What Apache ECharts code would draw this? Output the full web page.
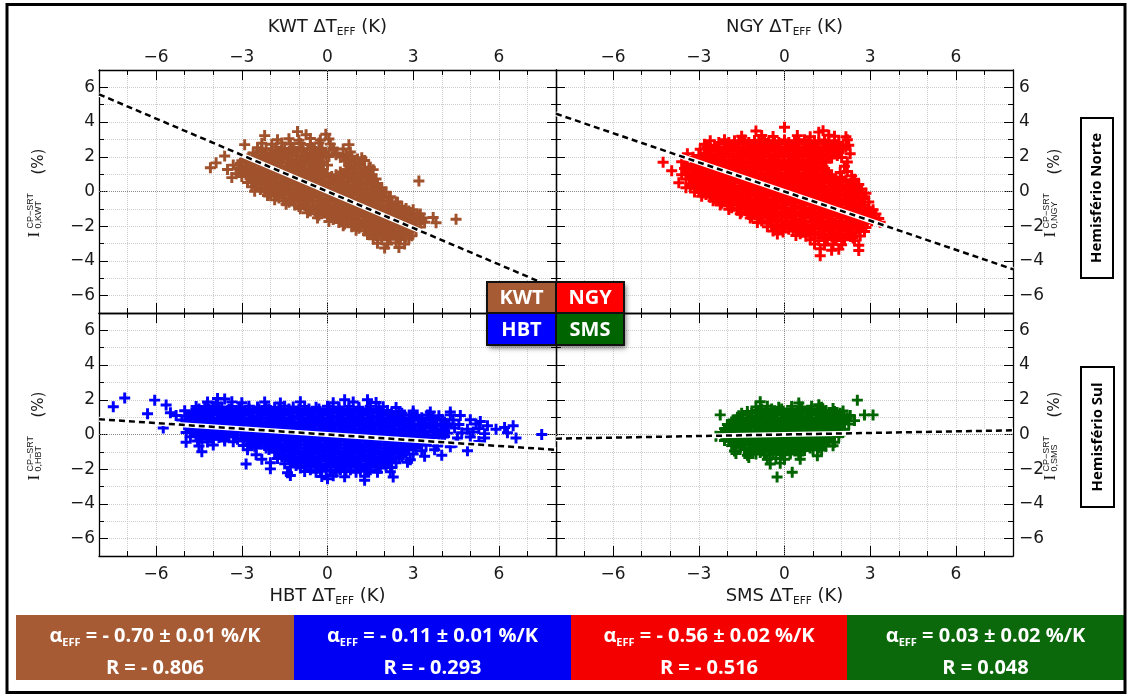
<!DOCTYPE html>
<html><head><meta charset="utf-8">
<script src="https://cdn.jsdelivr.net/npm/echarts@6/dist/echarts.min.js"></script>
<style>html,body{margin:0;padding:0;background:#fff}#c{width:1129px;height:695px}</style>
</head><body><div id="c"></div>
<script>
// ---------------- DATA ----------------
const panelNames = ['KWT', 'NGY', 'HBT', 'SMS'];
const panelColors = ['#A0522D', '#FF0000', '#0000FF', '#006400'];
const slopes = [-0.70, -0.56, -0.11, 0.03];          // alpha_EFF (%/K), regression through origin
const xRange = [-8, 8];
const yRange = [-7, 7];
const xTickLabels = [-6, -3, 0, 3, 6];
const yTickLabels = [-6, -4, -2, 0, 2, 4, 6];
const hemispheres = ['Hemisfério Norte', 'Hemisfério Sul'];
const boxStations = ['KWT', 'HBT', 'NGY', 'SMS'];
const boxColors = ['#A65B35', '#0000F5', '#F50000', '#0B680B'];
const alphaText = ['- 0.70 ± 0.01', '- 0.11 ± 0.01', '- 0.56 ± 0.02', '0.03 ± 0.02'];
const rText = ['- 0.806', '- 0.293', '- 0.516', '0.048'];

const kwtPoints = [
[-1.05,3.45],
[-2.2,3.22],[-0.75,3.27],[-0.06,3.3],
[-1.75,2.98],[-1.35,3.04],[-1.0,2.95],[-0.6,3.05],[-0.25,2.97],[0.05,3.02],
[-2.9,2.7],[-2.3,2.78],[-1.95,2.72],[-1.6,2.8],[-1.3,2.74],[-0.95,2.77],[-0.6,2.71],[-0.3,2.79],[0.1,2.73],[0.75,2.7],
[-2.45,2.52],[-2.15,2.46],[-1.8,2.55],[-1.5,2.48],[-1.2,2.53],[-0.85,2.47],[-0.55,2.54],[-0.2,2.49],[0.2,2.51],[0.55,2.45],
[-2.6,2.22],[-2.3,2.28],[-2.0,2.2],[-1.7,2.27],[-1.35,2.23],[-1.05,2.29],[-0.75,2.21],[-0.45,2.26],[-0.1,2.24],[0.3,2.2],[0.8,2.28],
[-3.6,2.04],[-2.75,1.98],[-2.45,2.03],[-2.15,1.97],[-1.85,2.02],[-1.55,1.96],[-1.25,2.04],[-0.9,1.99],[-0.6,2.03],[-0.3,1.97],[0.05,2.01],[0.45,1.98],[0.85,2.03],[1.2,1.95],
[-3.9,1.65],[-3.0,1.77],[-2.65,1.72],[-2.35,1.78],[-2.0,1.73],[-1.7,1.76],[-1.4,1.71],[-1.1,1.78],[-0.8,1.74],[-0.45,1.77],[-0.15,1.72],[0.6,1.76],[0.95,1.71],[1.3,1.78],
[-4.1,1.37],[-3.3,1.52],[-2.85,1.47],[-2.55,1.53],[-2.2,1.48],[-1.9,1.52],[-1.6,1.46],[-1.25,1.54],[-0.95,1.49],[-0.65,1.53],[-0.3,1.47],[0.0,1.52],[0.75,1.48],[1.1,1.53],[1.5,1.4],
[-3.5,1.27],[-3.05,1.22],[-2.7,1.28],[-2.4,1.23],[-2.1,1.27],[-1.8,1.21],[-1.45,1.26],[-1.15,1.23],[-0.8,1.28],[-0.5,1.22],[-0.2,1.27],[0.65,1.24],[0.95,1.28],[1.3,1.21],[1.6,1.26],
[-3.2,1.02],[-2.85,0.97],[-2.55,1.03],[-2.25,0.98],[-1.95,1.02],[-1.6,0.96],[-1.3,1.01],[-1.0,0.97],[-0.7,1.03],[-0.4,0.98],[-0.05,1.02],[0.3,0.96],[0.55,1.03],[0.9,0.98],[1.2,1.02],[1.55,0.97],
[-3.35,0.8],[-2.7,0.74],[-2.4,0.78],[-2.1,0.72],[-1.8,0.77],[-1.5,0.73],[-1.15,0.78],[-0.85,0.72],[-0.55,0.76],[-0.25,0.74],[0.1,0.78],[0.4,0.72],[0.75,0.77],[1.05,0.73],[1.4,0.78],[1.7,0.72],
[-2.8,0.52],[-2.5,0.47],[-2.2,0.53],[-1.9,0.48],[-1.6,0.52],[-1.3,0.46],[-1.0,0.51],[-0.7,0.48],[-0.4,0.53],[-0.1,0.47],[0.25,0.52],[0.55,0.48],[0.9,0.53],[1.2,0.47],[1.5,0.52],[1.75,0.46],[3.2,0.6],
[-2.65,0.27],[-2.35,0.22],[-2.05,0.28],[-1.75,0.23],[-1.45,0.27],[-1.1,0.21],[-0.8,0.26],[-0.5,0.23],[-0.2,0.28],[0.1,0.22],[0.4,0.27],[0.7,0.23],[1.0,0.28],[1.35,0.22],[1.65,0.26],[1.9,0.21],
[-2.55,0.02],[-2.2,-0.03],[-1.9,0.03],[-1.6,-0.02],[-1.25,0.02],[-0.95,-0.04],[-0.65,0.01],[-0.35,-0.02],[0.0,0.03],[0.3,-0.03],[0.6,0.02],[0.9,-0.02],[1.2,0.03],[1.5,-0.03],[1.8,0.01],[2.05,-0.04],
[-2.1,-0.23],[-1.8,-0.28],[-1.5,-0.22],[-1.15,-0.27],[-0.85,-0.23],[-0.55,-0.28],[-0.2,-0.22],[0.1,-0.26],[0.45,-0.23],[0.75,-0.28],[1.05,-0.22],[1.35,-0.27],[1.65,-0.23],[1.95,-0.28],[2.2,-0.3],
[-1.85,-0.48],[-1.55,-0.53],[-1.25,-0.47],[-0.95,-0.52],[-0.65,-0.48],[-0.35,-0.53],[-0.05,-0.47],[0.3,-0.52],[0.6,-0.48],[0.9,-0.53],[1.2,-0.47],[1.5,-0.52],[1.8,-0.48],[2.1,-0.53],[2.4,-0.6],
[-1.45,-0.73],[-1.15,-0.78],[-0.8,-0.72],[-0.5,-0.77],[-0.2,-0.73],[0.1,-0.78],[0.4,-0.72],[0.7,-0.77],[1.0,-0.73],[1.35,-0.78],[1.65,-0.72],[1.95,-0.77],[2.25,-0.73],[2.6,-0.85],
[-0.95,-1.0],[-0.65,-1.04],[-0.35,-0.97],[-0.05,-1.03],[0.25,-0.98],[0.55,-1.02],[0.9,-0.97],[1.2,-1.03],[1.5,-0.98],[1.8,-1.02],[2.1,-0.97],[2.4,-1.03],[2.75,-0.98],[3.0,-1.05],
[-0.7,-1.22],[-0.4,-1.28],[-0.1,-1.23],[0.2,-1.27],[0.5,-1.22],[0.8,-1.28],[1.1,-1.23],[1.45,-1.27],[1.75,-1.22],[2.05,-1.28],[2.35,-1.23],[2.65,-1.27],[2.95,-1.22],[3.25,-1.3],
[-0.35,-1.52],[0.0,-1.47],[0.3,-1.53],[0.6,-1.48],[0.95,-1.52],[1.25,-1.46],[1.55,-1.53],[1.85,-1.48],[2.15,-1.52],[2.45,-1.47],[2.75,-1.53],[3.05,-1.48],[3.35,-1.52],[3.7,-1.5],
[0.05,-1.73],[0.4,-1.78],[0.7,-1.72],[1.0,-1.77],[1.3,-1.73],[1.6,-1.78],[1.9,-1.72],[2.2,-1.77],[2.5,-1.73],[2.8,-1.78],[3.1,-1.72],[3.4,-1.77],[3.8,-1.8],
[0.55,-1.98],[0.85,-2.03],[1.15,-1.97],[1.45,-2.02],[1.75,-1.98],[2.05,-2.03],[2.35,-1.97],[2.65,-2.02],[2.95,-1.98],[3.25,-2.05],
[1.0,-2.23],[1.3,-2.28],[1.6,-2.22],[1.9,-2.27],[2.2,-2.23],[2.5,-2.28],[2.8,-2.22],[3.1,-2.27],
[1.4,-2.48],[1.7,-2.53],[2.0,-2.47],[2.3,-2.52],[2.6,-2.48],[2.95,-2.55],
[1.6,-2.73],[1.9,-2.78],[2.2,-2.72],[2.55,-2.77],[2.85,-2.7],
[1.75,-2.98],[2.1,-3.03],[2.4,-2.97],[2.7,-3.02],
[2.0,-3.25],[2.5,-3.22],
[4.5,-1.6]
];
const kwtCore = [
[-2.3,2.38],[-1.95,2.38],[-1.6,2.38],[-1.25,2.38],[-0.9,2.38],[-0.55,2.38],[-0.2,2.38],[0.2,2.38],
[-2.5,2.12],[-2.15,2.12],[-1.8,2.12],[-1.45,2.12],[-1.1,2.12],[-0.75,2.12],[-0.4,2.12],[-0.05,2.12],[0.3,2.12],[0.65,2.12],
[-2.8,1.87],[-2.45,1.87],[-2.1,1.87],[-1.75,1.87],[-1.4,1.87],[-1.05,1.87],[-0.7,1.87],[-0.35,1.87],[0.7,1.87],[1.05,1.87],
[-3.05,1.62],[-2.7,1.62],[-2.35,1.62],[-2.0,1.62],[-1.65,1.62],[-1.3,1.62],[-0.95,1.62],[-0.6,1.62],[-0.25,1.62],[0.8,1.62],[1.15,1.62],
[-3.1,1.37],[-2.75,1.37],[-2.4,1.37],[-2.05,1.37],[-1.7,1.37],[-1.35,1.37],[-1.0,1.37],[-0.65,1.37],[-0.3,1.37],[0.8,1.37],[1.15,1.37],[1.45,1.37],
[-2.95,1.12],[-2.6,1.12],[-2.25,1.12],[-1.9,1.12],[-1.55,1.12],[-1.2,1.12],[-0.85,1.12],[-0.5,1.12],[-0.15,1.12],[0.45,1.12],[0.8,1.12],[1.1,1.12],[1.4,1.12],
[-3.0,0.87],[-2.65,0.87],[-2.3,0.87],[-1.95,0.87],[-1.6,0.87],[-1.25,0.87],[-0.9,0.87],[-0.55,0.87],[-0.2,0.87],[0.15,0.87],[0.5,0.87],[0.85,0.87],[1.2,0.87],[1.5,0.87],
[-2.6,0.62],[-2.25,0.62],[-1.9,0.62],[-1.55,0.62],[-1.2,0.62],[-0.85,0.62],[-0.5,0.62],[-0.15,0.62],[0.2,0.62],[0.55,0.62],[0.9,0.62],[1.25,0.62],[1.6,0.62],
[-2.5,0.37],[-2.15,0.37],[-1.8,0.37],[-1.45,0.37],[-1.1,0.37],[-0.75,0.37],[-0.4,0.37],[-0.05,0.37],[0.3,0.37],[0.65,0.37],[1.0,0.37],[1.35,0.37],[1.7,0.37],
[-2.35,0.12],[-2.0,0.12],[-1.65,0.12],[-1.3,0.12],[-0.95,0.12],[-0.6,0.12],[-0.25,0.12],[0.1,0.12],[0.45,0.12],[0.8,0.12],[1.15,0.12],[1.5,0.12],[1.85,0.12],
[-2.0,-0.12],[-1.65,-0.12],[-1.3,-0.12],[-0.95,-0.12],[-0.6,-0.12],[-0.25,-0.12],[0.1,-0.12],[0.45,-0.12],[0.8,-0.12],[1.15,-0.12],[1.5,-0.12],[1.85,-0.12],
[-1.7,-0.37],[-1.35,-0.37],[-1.0,-0.37],[-0.65,-0.37],[-0.3,-0.37],[0.05,-0.37],[0.4,-0.37],[0.75,-0.37],[1.1,-0.37],[1.45,-0.37],[1.8,-0.37],[2.15,-0.37],
[-1.35,-0.62],[-1.0,-0.62],[-0.65,-0.62],[-0.3,-0.62],[0.05,-0.62],[0.4,-0.62],[0.75,-0.62],[1.1,-0.62],[1.45,-0.62],[1.8,-0.62],[2.15,-0.62],[2.45,-0.62],
[-1.0,-0.87],[-0.65,-0.87],[-0.3,-0.87],[0.05,-0.87],[0.4,-0.87],[0.75,-0.87],[1.1,-0.87],[1.45,-0.87],[1.8,-0.87],[2.15,-0.87],[2.5,-0.87],
[-0.6,-1.12],[-0.25,-1.12],[0.1,-1.12],[0.45,-1.12],[0.8,-1.12],[1.15,-1.12],[1.5,-1.12],[1.85,-1.12],[2.2,-1.12],[2.55,-1.12],[2.85,-1.12],
[-0.3,-1.37],[0.05,-1.37],[0.4,-1.37],[0.75,-1.37],[1.1,-1.37],[1.45,-1.37],[1.8,-1.37],[2.15,-1.37],[2.5,-1.37],[2.85,-1.37],[3.15,-1.37],
[0.2,-1.62],[0.55,-1.62],[0.9,-1.62],[1.25,-1.62],[1.6,-1.62],[1.95,-1.62],[2.3,-1.62],[2.65,-1.62],[3.0,-1.62],[3.3,-1.62],
[0.6,-1.87],[0.95,-1.87],[1.3,-1.87],[1.65,-1.87],[2.0,-1.87],[2.35,-1.87],[2.7,-1.87],[3.05,-1.87],
[1.1,-2.12],[1.45,-2.12],[1.8,-2.12],[2.15,-2.12],[2.5,-2.12],[2.85,-2.12],
[1.5,-2.37],[1.85,-2.37],[2.2,-2.37],[2.55,-2.37],[2.85,-2.37],
[1.75,-2.62],[2.1,-2.62],[2.45,-2.62],[2.75,-2.62]
];

const ngyPoints = [
[0.0,3.7],
[-1.0,3.48],[1.2,3.42],[1.35,3.5],
[-1.5,3.18],[-0.8,3.23],[-0.4,3.17],[0.45,3.22],[0.9,3.16],[1.55,3.24],[1.75,3.18],[2.15,3.15],
[-2.6,2.93],[-2.1,2.98],[-1.75,2.92],[-1.4,2.97],[-1.05,2.94],[-0.7,2.99],[-0.35,2.92],[0.0,2.97],[0.35,2.93],[0.7,2.98],[1.05,2.92],[1.4,2.97],[1.75,2.93],[2.2,2.98],
[-2.8,2.72],[-2.45,2.67],[-2.1,2.73],[-1.8,2.68],[-1.45,2.72],[-1.15,2.66],[-0.8,2.71],[-0.5,2.68],[-0.15,2.73],[0.2,2.67],[0.5,2.72],[0.85,2.68],[1.2,2.73],[1.55,2.67],[1.9,2.71],[2.25,2.66],
[-2.95,2.43],[-2.6,2.48],[-2.3,2.42],[-1.95,2.47],[-1.65,2.43],[-1.3,2.48],[-1.0,2.42],[-0.65,2.47],[-0.3,2.43],[0.05,2.48],[0.35,2.42],[0.7,2.47],[1.0,2.43],[1.35,2.48],[1.7,2.42],[2.05,2.46],
[-3.4,2.17],[-2.8,2.22],[-2.45,2.18],[-2.15,2.23],[-1.8,2.17],[-1.5,2.22],[-1.15,2.18],[-0.85,2.23],[-0.5,2.17],[-0.2,2.22],[0.15,2.18],[0.5,2.23],[0.85,2.17],[1.15,2.22],[1.5,2.18],[1.85,2.23],[2.3,2.17],
[-3.2,1.97],[-2.9,1.92],[-2.6,1.98],[-2.3,1.93],[-1.95,1.97],[-1.65,1.92],[-1.35,1.98],[-1.0,1.93],[-0.7,1.97],[-0.35,1.92],[0.0,1.98],[0.3,1.93],[0.65,1.97],[1.0,1.92],[1.3,1.98],[1.65,1.93],[2.0,1.96],
[-4.25,1.69],[-3.6,1.72],[-3.05,1.67],[-2.75,1.73],[-2.45,1.68],[-2.1,1.72],[-1.8,1.67],[-1.5,1.73],[-1.15,1.68],[-0.85,1.72],[-0.5,1.67],[-0.2,1.73],[0.15,1.68],[0.5,1.72],[0.8,1.67],[1.15,1.73],[1.45,1.68],[2.2,1.7],
[-3.4,1.47],[-3.1,1.42],[-2.8,1.48],[-2.5,1.43],[-2.2,1.47],[-1.9,1.42],[-1.6,1.48],[-1.3,1.43],[-0.95,1.47],[-0.65,1.42],[-0.3,1.48],[0.05,1.43],[0.35,1.47],[0.7,1.42],[1.0,1.48],[1.35,1.43],[2.1,1.45],
[-3.95,1.2],[-3.25,1.22],[-2.95,1.17],[-2.65,1.23],[-2.35,1.18],[-2.05,1.22],[-1.7,1.17],[-1.4,1.23],[-1.1,1.18],[-0.8,1.22],[-0.45,1.17],[-0.15,1.23],[0.2,1.18],[0.5,1.22],[0.85,1.17],[1.15,1.23],[1.45,1.18],[1.95,1.1],[2.2,1.15],
[-3.6,0.97],[-3.2,0.92],[-2.85,0.98],[-2.55,0.93],[-2.2,0.97],[-1.9,0.92],[-1.6,0.98],[-1.25,0.93],[-0.95,0.97],[-0.6,0.92],[-0.3,0.98],[0.05,0.93],[0.35,0.97],[0.7,0.92],[1.0,0.98],[1.3,0.93],[1.65,0.97],[2.35,0.9],
[-3.45,0.72],[-3.1,0.67],[-2.75,0.73],[-2.45,0.68],[-2.15,0.72],[-1.8,0.67],[-1.5,0.73],[-1.2,0.68],[-0.85,0.72],[-0.55,0.67],[-0.2,0.73],[0.1,0.68],[0.45,0.72],[0.8,0.67],[1.1,0.73],[1.4,0.68],[1.8,0.72],[2.15,0.66],[2.45,0.7],
[-3.7,0.5],[-3.3,0.43],[-3.0,0.48],[-2.7,0.42],[-2.35,0.47],[-2.05,0.43],[-1.75,0.48],[-1.4,0.42],[-1.1,0.47],[-0.75,0.43],[-0.45,0.48],[-0.1,0.42],[0.25,0.47],[0.55,0.43],[0.9,0.48],[1.2,0.42],[1.55,0.47],[1.9,0.43],[2.3,0.46],[2.6,0.4],
[-3.45,0.22],[-3.1,0.17],[-2.8,0.23],[-2.5,0.18],[-2.2,0.22],[-1.85,0.17],[-1.55,0.23],[-1.25,0.18],[-0.9,0.22],[-0.6,0.17],[-0.25,0.23],[0.1,0.18],[0.4,0.22],[0.75,0.17],[1.05,0.23],[1.35,0.18],[1.7,0.22],[2.0,0.17],[2.4,0.21],[2.7,0.15],
[-3.15,-0.03],[-2.85,-0.08],[-2.55,-0.02],[-2.25,-0.07],[-1.95,-0.03],[-1.6,-0.08],[-1.3,-0.02],[-1.0,-0.07],[-0.65,-0.03],[-0.35,-0.08],[0.0,-0.02],[0.3,-0.07],[0.65,-0.03],[0.95,-0.08],[1.25,-0.02],[1.6,-0.07],[1.9,-0.03],[2.2,-0.08],[2.55,-0.02],[2.85,-0.1],
[-2.9,-0.28],[-2.6,-0.33],[-2.3,-0.27],[-2.0,-0.32],[-1.7,-0.28],[-1.35,-0.33],[-1.05,-0.27],[-0.75,-0.32],[-0.4,-0.28],[-0.1,-0.33],[0.2,-0.27],[0.55,-0.32],[0.85,-0.28],[1.15,-0.33],[1.5,-0.27],[1.8,-0.32],[2.1,-0.28],[2.45,-0.33],[2.8,-0.3],
[-2.5,-0.53],[-2.2,-0.58],[-1.9,-0.52],[-1.6,-0.57],[-1.25,-0.53],[-0.95,-0.58],[-0.6,-0.52],[-0.3,-0.57],[0.05,-0.53],[0.35,-0.58],[0.7,-0.52],[1.0,-0.57],[1.3,-0.53],[1.65,-0.58],[1.95,-0.52],[2.3,-0.57],[2.6,-0.53],[2.95,-0.6],
[-2.25,-0.78],[-1.95,-0.83],[-1.65,-0.77],[-1.35,-0.82],[-1.05,-0.78],[-0.7,-0.83],[-0.4,-0.77],[-0.1,-0.82],[0.25,-0.78],[0.55,-0.83],[0.9,-0.77],[1.2,-0.82],[1.5,-0.78],[1.85,-0.83],[2.15,-0.77],[2.45,-0.82],[2.8,-0.78],
[-1.95,-1.03],[-1.65,-1.08],[-1.35,-1.02],[-1.0,-1.07],[-0.7,-1.03],[-0.4,-1.08],[-0.05,-1.02],[0.25,-1.07],[0.55,-1.03],[0.9,-1.08],[1.2,-1.02],[1.55,-1.07],[1.85,-1.03],[2.2,-1.08],[2.5,-1.02],[2.8,-1.07],[3.1,-1.05],
[-1.55,-1.28],[-1.25,-1.33],[-0.9,-1.27],[-0.6,-1.32],[-0.3,-1.28],[0.05,-1.33],[0.35,-1.27],[0.7,-1.32],[1.0,-1.28],[1.3,-1.33],[1.65,-1.27],[1.95,-1.32],[2.3,-1.28],[2.6,-1.33],[2.9,-1.27],[3.2,-1.3],
[-1.2,-1.53],[-0.9,-1.58],[-0.55,-1.52],[-0.25,-1.57],[0.1,-1.53],[0.4,-1.58],[0.7,-1.52],[1.05,-1.57],[1.35,-1.53],[1.65,-1.58],[2.0,-1.52],[2.3,-1.57],[2.65,-1.53],[2.95,-1.58],[3.3,-1.55],
[-0.95,-1.78],[-0.6,-1.83],[-0.3,-1.77],[0.05,-1.82],[0.35,-1.78],[0.65,-1.83],[1.0,-1.77],[1.3,-1.82],[1.6,-1.78],[1.95,-1.83],[2.25,-1.77],[2.55,-1.82],[2.9,-1.78],[3.35,-1.77],
[-0.6,-2.03],[-0.3,-2.08],[0.0,-2.02],[0.35,-2.07],[0.65,-2.03],[0.95,-2.08],[1.3,-2.02],[1.6,-2.07],[1.9,-2.03],[2.2,-2.08],[2.55,-2.02],[2.85,-2.07],
[-0.4,-2.28],[-0.05,-2.33],[0.3,-2.27],[0.6,-2.32],[0.9,-2.28],[1.25,-2.33],[1.55,-2.27],[1.85,-2.32],[2.2,-2.28],[2.5,-2.33],[2.8,-2.3],
[-0.25,-2.45],[0.4,-2.53],[0.75,-2.58],[1.05,-2.52],[1.35,-2.57],[1.7,-2.53],[2.0,-2.58],[2.3,-2.52],[2.65,-2.57],
[0.9,-2.78],[1.2,-2.83],[1.5,-2.77],[1.8,-2.82],[2.1,-2.78],[2.45,-2.83],
[1.05,-3.03],[1.4,-3.08],[1.7,-3.02],[2.0,-3.07],[2.6,-3.1],
[1.25,-3.3],[1.65,-3.38],[1.9,-3.32],[2.6,-3.4],
[1.25,-3.7]
];
const ngyCore = [
[-2.3,2.82],[-1.95,2.82],[-1.6,2.82],[-1.25,2.82],[-0.9,2.82],[-0.55,2.82],[-0.2,2.82],[0.15,2.82],[0.5,2.82],[0.85,2.82],[1.2,2.82],[1.55,2.82],[1.9,2.82],
[-2.7,2.57],[-2.35,2.57],[-2.0,2.57],[-1.65,2.57],[-1.3,2.57],[-0.95,2.57],[-0.6,2.57],[-0.25,2.57],[0.1,2.57],[0.45,2.57],[0.8,2.57],[1.15,2.57],[1.5,2.57],[1.85,2.57],[2.15,2.57],
[-2.65,2.32],[-2.3,2.32],[-1.95,2.32],[-1.6,2.32],[-1.25,2.32],[-0.9,2.32],[-0.55,2.32],[-0.2,2.32],[0.15,2.32],[0.5,2.32],[0.85,2.32],[1.2,2.32],[1.55,2.32],[1.9,2.32],
[-3.0,2.07],[-2.65,2.07],[-2.3,2.07],[-1.95,2.07],[-1.6,2.07],[-1.25,2.07],[-0.9,2.07],[-0.55,2.07],[-0.2,2.07],[0.15,2.07],[0.5,2.07],[0.85,2.07],[1.2,2.07],[1.55,2.07],[1.85,2.07],
[-3.2,1.82],[-2.85,1.82],[-2.5,1.82],[-2.15,1.82],[-1.8,1.82],[-1.45,1.82],[-1.1,1.82],[-0.75,1.82],[-0.4,1.82],[-0.05,1.82],[0.3,1.82],[0.65,1.82],[1.0,1.82],[1.35,1.82],
[-3.25,1.57],[-2.9,1.57],[-2.55,1.57],[-2.2,1.57],[-1.85,1.57],[-1.5,1.57],[-1.15,1.57],[-0.8,1.57],[-0.45,1.57],[-0.1,1.57],[0.25,1.57],[0.6,1.57],[0.95,1.57],[1.3,1.57],
[-3.5,1.32],[-3.1,1.32],[-2.75,1.32],[-2.4,1.32],[-2.05,1.32],[-1.7,1.32],[-1.35,1.32],[-1.0,1.32],[-0.65,1.32],[-0.3,1.32],[0.05,1.32],[0.4,1.32],[0.75,1.32],[1.1,1.32],[1.4,1.32],
[-3.4,1.07],[-3.05,1.07],[-2.7,1.07],[-2.35,1.07],[-2.0,1.07],[-1.65,1.07],[-1.3,1.07],[-0.95,1.07],[-0.6,1.07],[-0.25,1.07],[0.1,1.07],[0.45,1.07],[0.8,1.07],[1.15,1.07],[1.5,1.07],
[-3.3,0.82],[-2.95,0.82],[-2.6,0.82],[-2.25,0.82],[-1.9,0.82],[-1.55,0.82],[-1.2,0.82],[-0.85,0.82],[-0.5,0.82],[-0.15,0.82],[0.2,0.82],[0.55,0.82],[0.9,0.82],[1.25,0.82],[1.6,0.82],[2.0,0.82],
[-3.2,0.57],[-2.85,0.57],[-2.5,0.57],[-2.15,0.57],[-1.8,0.57],[-1.45,0.57],[-1.1,0.57],[-0.75,0.57],[-0.4,0.57],[-0.05,0.57],[0.3,0.57],[0.65,0.57],[1.0,0.57],[1.35,0.57],[1.7,0.57],[2.05,0.57],[2.4,0.57],
[-3.3,0.32],[-2.95,0.32],[-2.6,0.32],[-2.25,0.32],[-1.9,0.32],[-1.55,0.32],[-1.2,0.32],[-0.85,0.32],[-0.5,0.32],[-0.15,0.32],[0.2,0.32],[0.55,0.32],[0.9,0.32],[1.25,0.32],[1.6,0.32],[1.95,0.32],[2.3,0.32],[2.55,0.32],
[-3.0,0.07],[-2.65,0.07],[-2.3,0.07],[-1.95,0.07],[-1.6,0.07],[-1.25,0.07],[-0.9,0.07],[-0.55,0.07],[-0.2,0.07],[0.15,0.07],[0.5,0.07],[0.85,0.07],[1.2,0.07],[1.55,0.07],[1.9,0.07],[2.25,0.07],[2.6,0.07],
[-2.75,-0.18],[-2.4,-0.18],[-2.05,-0.18],[-1.7,-0.18],[-1.35,-0.18],[-1.0,-0.18],[-0.65,-0.18],[-0.3,-0.18],[0.05,-0.18],[0.4,-0.18],[0.75,-0.18],[1.1,-0.18],[1.45,-0.18],[1.8,-0.18],[2.15,-0.18],[2.5,-0.18],
[-2.45,-0.43],[-2.1,-0.43],[-1.75,-0.43],[-1.4,-0.43],[-1.05,-0.43],[-0.7,-0.43],[-0.35,-0.43],[0.0,-0.43],[0.35,-0.43],[0.7,-0.43],[1.05,-0.43],[1.4,-0.43],[1.75,-0.43],[2.1,-0.43],[2.45,-0.43],[2.75,-0.43],
[-2.2,-0.68],[-1.85,-0.68],[-1.5,-0.68],[-1.15,-0.68],[-0.8,-0.68],[-0.45,-0.68],[-0.1,-0.68],[0.25,-0.68],[0.6,-0.68],[0.95,-0.68],[1.3,-0.68],[1.65,-0.68],[2.0,-0.68],[2.35,-0.68],[2.65,-0.68],
[-1.85,-0.93],[-1.5,-0.93],[-1.15,-0.93],[-0.8,-0.93],[-0.45,-0.93],[-0.1,-0.93],[0.25,-0.93],[0.6,-0.93],[0.95,-0.93],[1.3,-0.93],[1.65,-0.93],[2.0,-0.93],[2.35,-0.93],[2.65,-0.93],[2.95,-0.93],
[-1.5,-1.18],[-1.15,-1.18],[-0.8,-1.18],[-0.45,-1.18],[-0.1,-1.18],[0.25,-1.18],[0.6,-1.18],[0.95,-1.18],[1.3,-1.18],[1.65,-1.18],[2.0,-1.18],[2.35,-1.18],[2.7,-1.18],[3.0,-1.18],
[-1.15,-1.43],[-0.8,-1.43],[-0.45,-1.43],[-0.1,-1.43],[0.25,-1.43],[0.6,-1.43],[0.95,-1.43],[1.3,-1.43],[1.65,-1.43],[2.0,-1.43],[2.35,-1.43],[2.7,-1.43],[3.05,-1.43],
[-0.8,-1.68],[-0.45,-1.68],[-0.1,-1.68],[0.25,-1.68],[0.6,-1.68],[0.95,-1.68],[1.3,-1.68],[1.65,-1.68],[2.0,-1.68],[2.35,-1.68],[2.7,-1.68],[3.05,-1.68],
[-0.45,-1.93],[-0.1,-1.93],[0.25,-1.93],[0.6,-1.93],[0.95,-1.93],[1.3,-1.93],[1.65,-1.93],[2.0,-1.93],[2.35,-1.93],[2.7,-1.93],
[-0.2,-2.18],[0.15,-2.18],[0.5,-2.18],[0.85,-2.18],[1.2,-2.18],[1.55,-2.18],[1.9,-2.18],[2.25,-2.18],[2.6,-2.18],
[0.55,-2.43],[0.9,-2.43],[1.25,-2.43],[1.6,-2.43],[1.95,-2.43],[2.3,-2.43],
[1.05,-2.68],[1.4,-2.68],[1.75,-2.68],[2.1,-2.68],[2.4,-2.68]
];

const hbtPoints = [
[-7.1,2.1],[-3.85,2.07],[-3.6,2.05],[0.6,2.0],[1.4,2.0],
[-6.05,1.98],[-4.2,1.87],[-3.9,1.82],[-3.35,1.88],[-3.0,1.83],[-2.2,1.87],[-1.65,1.82],[-0.95,1.88],[0.2,1.83],[0.9,1.87],[1.7,1.84],
[-7.5,1.6],[-5.65,1.7],[-4.6,1.62],[-4.3,1.57],[-4.0,1.63],[-3.7,1.58],[-3.35,1.62],[-3.05,1.57],[-2.75,1.63],[-2.45,1.58],[-2.15,1.62],[-1.85,1.57],[-1.5,1.63],[-1.2,1.58],[-0.8,1.62],[-0.4,1.57],[0.0,1.63],[0.4,1.58],[0.75,1.62],[1.1,1.57],[1.5,1.63],[1.95,1.6],[2.4,1.55],
[-5.5,1.25],[-5.0,1.37],[-4.7,1.32],[-4.4,1.38],[-4.1,1.33],[-3.8,1.37],[-3.5,1.32],[-3.2,1.38],[-2.9,1.33],[-2.6,1.37],[-2.3,1.32],[-2.0,1.38],[-1.7,1.33],[-1.35,1.37],[-1.05,1.32],[-0.7,1.38],[-0.35,1.33],[0.0,1.37],[0.35,1.32],[0.7,1.38],[1.05,1.33],[1.4,1.37],[1.75,1.32],[2.1,1.38],[2.5,1.33],[3.0,1.36],[3.6,1.3],[4.3,1.3],
[-6.3,1.2],[-5.3,1.1],[-4.95,1.07],[-4.6,1.12],[-4.3,1.08],[-4.0,1.13],[-3.65,1.07],[-3.35,1.12],[-3.05,1.08],[-2.75,1.13],[-2.45,1.07],[-2.15,1.12],[-1.85,1.08],[-1.5,1.13],[-1.2,1.07],[-0.85,1.12],[-0.5,1.08],[-0.15,1.13],[0.2,1.07],[0.55,1.12],[0.9,1.08],[1.25,1.13],[1.6,1.07],[1.95,1.12],[2.3,1.08],[2.7,1.13],[3.1,1.07],[3.5,1.12],[3.9,1.08],[4.3,1.13],[4.65,1.1],
[-5.1,0.83],[-4.8,0.88],[-4.5,0.82],[-4.15,0.87],[-3.85,0.83],[-3.55,0.88],[-3.25,0.82],[-2.9,0.87],[-2.6,0.83],[-2.3,0.88],[-2.0,0.82],[-1.65,0.87],[-1.35,0.83],[-1.0,0.88],[-0.7,0.82],[-0.35,0.87],[0.0,0.83],[0.35,0.88],[0.7,0.82],[1.05,0.87],[1.4,0.83],[1.75,0.88],[2.1,0.82],[2.45,0.87],[2.85,0.83],[3.2,0.88],[3.6,0.82],[4.0,0.87],[4.4,0.83],[5.0,0.85],[5.35,0.75],
[-5.0,0.58],[-4.65,0.63],[-4.35,0.57],[-4.0,0.62],[-3.7,0.58],[-3.4,0.63],[-3.1,0.57],[-2.75,0.62],[-2.45,0.58],[-2.15,0.63],[-1.8,0.57],[-1.5,0.62],[-1.2,0.58],[-0.85,0.63],[-0.5,0.57],[-0.15,0.62],[0.2,0.58],[0.55,0.63],[0.9,0.57],[1.25,0.62],[1.6,0.58],[1.95,0.63],[2.3,0.57],[2.65,0.62],[3.0,0.58],[3.4,0.63],[3.8,0.57],[4.2,0.62],[4.6,0.58],[5.2,0.6],[5.6,0.5],[6.5,0.5],
[-5.75,0.38],[-4.85,0.33],[-4.5,0.38],[-4.2,0.32],[-3.85,0.37],[-3.55,0.33],[-3.25,0.38],[-2.9,0.32],[-2.6,0.37],[-2.3,0.33],[-1.95,0.38],[-1.65,0.32],[-1.35,0.37],[-1.0,0.33],[-0.65,0.38],[-0.3,0.32],[0.05,0.37],[0.4,0.33],[0.75,0.38],[1.1,0.32],[1.45,0.37],[1.8,0.33],[2.15,0.38],[2.5,0.32],[2.85,0.37],[3.2,0.33],[3.6,0.38],[4.0,0.32],[4.45,0.37],[4.9,0.3],[5.3,0.35],[5.9,0.3],[6.2,0.4],
[-4.95,0.12],[-4.6,0.07],[-4.3,0.13],[-3.95,0.08],[-3.65,0.12],[-3.3,0.07],[-3.0,0.13],[-2.7,0.08],[-2.4,0.12],[-2.05,0.07],[-1.75,0.13],[-1.45,0.08],[-1.1,0.12],[-0.8,0.07],[-0.45,0.13],[-0.1,0.08],[0.25,0.12],[0.6,0.07],[0.95,0.13],[1.3,0.08],[1.65,0.12],[2.0,0.07],[2.35,0.13],[2.7,0.08],[3.05,0.12],[3.4,0.07],[3.8,0.13],[4.2,0.08],[4.7,0.1],[5.1,0.15],[5.5,0.05],[6.3,0.1],
[-4.8,-0.13],[-4.45,-0.18],[-4.1,-0.12],[-3.8,-0.17],[-3.45,-0.13],[-3.15,-0.18],[-2.8,-0.12],[-2.5,-0.17],[-2.2,-0.13],[-1.9,-0.18],[-1.55,-0.12],[-1.25,-0.17],[-0.9,-0.13],[-0.55,-0.18],[-0.2,-0.12],[0.15,-0.17],[0.5,-0.13],[0.85,-0.18],[1.2,-0.12],[1.55,-0.17],[1.9,-0.13],[2.25,-0.18],[2.6,-0.12],[2.95,-0.17],[3.3,-0.13],[3.7,-0.18],[4.1,-0.12],[4.55,-0.2],[5.0,-0.15],[5.5,-0.2],[6.6,-0.2],[7.5,0.0],
[-4.95,-0.45],[-4.55,-0.38],[-4.2,-0.43],[-3.6,-0.38],[-3.3,-0.42],[-2.95,-0.37],[-2.6,-0.43],[-2.3,-0.38],[-2.0,-0.42],[-1.65,-0.37],[-1.35,-0.43],[-1.0,-0.38],[-0.65,-0.42],[-0.3,-0.37],[0.05,-0.43],[0.4,-0.38],[0.75,-0.42],[1.1,-0.37],[1.45,-0.43],[1.8,-0.38],[2.15,-0.42],[2.5,-0.37],[2.85,-0.43],[3.2,-0.38],[3.6,-0.42],[4.0,-0.4],[4.5,-0.45],[5.3,-0.4],
[-4.5,-0.66],[-4.0,-0.6],[-2.95,-0.63],[-2.55,-0.68],[-2.2,-0.62],[-1.85,-0.67],[-1.5,-0.63],[-1.15,-0.68],[-0.8,-0.62],[-0.45,-0.67],[-0.1,-0.63],[0.25,-0.68],[0.6,-0.62],[0.95,-0.67],[1.3,-0.63],[1.65,-0.68],[2.0,-0.62],[2.35,-0.67],[2.7,-0.63],[3.05,-0.68],[3.45,-0.62],[3.85,-0.67],[4.3,-0.7],
[-4.4,-1.0],[-2.8,-0.88],[-2.05,-0.87],[-1.7,-0.92],[-1.35,-0.88],[-1.0,-0.93],[-0.65,-0.87],[-0.3,-0.92],[0.05,-0.88],[0.4,-0.93],[0.75,-0.87],[1.1,-0.92],[1.45,-0.88],[1.8,-0.93],[2.15,-0.87],[2.5,-0.92],[2.85,-0.88],[3.3,-0.93],[3.75,-0.88],[4.9,-0.94],
[-2.5,-1.17],[-1.55,-1.18],[-1.2,-1.13],[-0.85,-1.17],[-0.5,-1.12],[-0.15,-1.18],[0.2,-1.13],[0.55,-1.17],[0.9,-1.12],[1.25,-1.18],[1.6,-1.13],[1.95,-1.17],[2.3,-1.12],[2.65,-1.18],[3.0,-1.13],[3.4,-1.25],[4.0,-1.2],
[-2.3,-1.42],[-1.75,-1.38],[-1.35,-1.43],[-1.0,-1.37],[-0.65,-1.42],[-0.3,-1.38],[0.05,-1.43],[0.4,-1.37],[0.75,-1.42],[1.1,-1.38],[1.45,-1.43],[1.8,-1.37],[2.15,-1.42],[2.5,-1.38],[2.9,-1.45],
[-2.85,-1.7],[-2.0,-1.63],[-1.5,-1.68],[-1.1,-1.62],[-0.75,-1.67],[-0.4,-1.63],[-0.05,-1.68],[0.3,-1.62],[0.65,-1.67],[1.0,-1.63],[1.35,-1.68],[1.7,-1.62],[2.05,-1.67],[2.4,-1.63],[2.8,-1.6],
[-2.0,-1.98],[-1.3,-1.88],[-0.95,-1.93],[-0.6,-1.87],[-0.25,-1.92],[0.1,-1.88],[0.45,-1.93],[0.8,-1.87],[1.15,-1.92],[1.5,-1.88],[1.85,-1.93],[2.25,-1.9],
[-1.4,-2.2],[-0.8,-2.13],[-0.4,-2.18],[-0.05,-2.12],[0.3,-2.17],[0.65,-2.13],[1.0,-2.18],[1.4,-2.12],[1.75,-2.17],[2.2,-2.15],
[-1.3,-2.36],[-0.2,-2.42],[0.2,-2.38],[0.6,-2.43],[1.3,-2.4],[2.3,-2.45],
[0.0,-2.55],[1.3,-2.64]
];
const hbtCore = [
[-4.5,1.47],[-4.15,1.47],[-3.8,1.47],[-3.45,1.47],[-3.1,1.47],[-2.75,1.47],[-2.4,1.47],[-2.05,1.47],[-1.7,1.47],[-1.35,1.47],[-1.0,1.47],[-0.65,1.47],[-0.3,1.47],[0.05,1.47],[0.4,1.47],[0.75,1.47],[1.1,1.47],[1.45,1.47],[1.8,1.47],
[-4.75,1.22],[-4.4,1.22],[-4.05,1.22],[-3.7,1.22],[-3.35,1.22],[-3.0,1.22],[-2.65,1.22],[-2.3,1.22],[-1.95,1.22],[-1.6,1.22],[-1.25,1.22],[-0.9,1.22],[-0.55,1.22],[-0.2,1.22],[0.15,1.22],[0.5,1.22],[0.85,1.22],[1.2,1.22],[1.55,1.22],[1.9,1.22],[2.25,1.22],[2.6,1.22],[3.0,1.22],
[-4.85,0.97],[-4.5,0.97],[-4.15,0.97],[-3.8,0.97],[-3.45,0.97],[-3.1,0.97],[-2.75,0.97],[-2.4,0.97],[-2.05,0.97],[-1.7,0.97],[-1.35,0.97],[-1.0,0.97],[-0.65,0.97],[-0.3,0.97],[0.05,0.97],[0.4,0.97],[0.75,0.97],[1.1,0.97],[1.45,0.97],[1.8,0.97],[2.15,0.97],[2.5,0.97],[2.9,0.97],[3.3,0.97],[3.7,0.97],
[-4.8,0.72],[-4.45,0.72],[-4.1,0.72],[-3.75,0.72],[-3.4,0.72],[-3.05,0.72],[-2.7,0.72],[-2.35,0.72],[-2.0,0.72],[-1.65,0.72],[-1.3,0.72],[-0.95,0.72],[-0.6,0.72],[-0.25,0.72],[0.1,0.72],[0.45,0.72],[0.8,0.72],[1.15,0.72],[1.5,0.72],[1.85,0.72],[2.2,0.72],[2.55,0.72],[2.9,0.72],[3.3,0.72],[3.7,0.72],[4.1,0.72],
[-4.7,0.47],[-4.35,0.47],[-4.0,0.47],[-3.65,0.47],[-3.3,0.47],[-2.95,0.47],[-2.6,0.47],[-2.25,0.47],[-1.9,0.47],[-1.55,0.47],[-1.2,0.47],[-0.85,0.47],[-0.5,0.47],[-0.15,0.47],[0.2,0.47],[0.55,0.47],[0.9,0.47],[1.25,0.47],[1.6,0.47],[1.95,0.47],[2.3,0.47],[2.65,0.47],[3.0,0.47],[3.4,0.47],[3.8,0.47],[4.2,0.47],
[-4.75,0.22],[-4.4,0.22],[-4.05,0.22],[-3.7,0.22],[-3.35,0.22],[-3.0,0.22],[-2.65,0.22],[-2.3,0.22],[-1.95,0.22],[-1.6,0.22],[-1.25,0.22],[-0.9,0.22],[-0.55,0.22],[-0.2,0.22],[0.15,0.22],[0.5,0.22],[0.85,0.22],[1.2,0.22],[1.55,0.22],[1.9,0.22],[2.25,0.22],[2.6,0.22],[2.95,0.22],[3.3,0.22],[3.7,0.22],[4.1,0.22],
[-4.6,-0.03],[-4.25,-0.03],[-3.9,-0.03],[-3.55,-0.03],[-3.2,-0.03],[-2.85,-0.03],[-2.5,-0.03],[-2.15,-0.03],[-1.8,-0.03],[-1.45,-0.03],[-1.1,-0.03],[-0.75,-0.03],[-0.4,-0.03],[-0.05,-0.03],[0.3,-0.03],[0.65,-0.03],[1.0,-0.03],[1.35,-0.03],[1.7,-0.03],[2.05,-0.03],[2.4,-0.03],[2.75,-0.03],[3.1,-0.03],[3.5,-0.03],[3.9,-0.03],
[-4.4,-0.28],[-4.0,-0.28],[-3.6,-0.28],[-3.15,-0.28],[-2.8,-0.28],[-2.45,-0.28],[-2.1,-0.28],[-1.75,-0.28],[-1.4,-0.28],[-1.05,-0.28],[-0.7,-0.28],[-0.35,-0.28],[0.0,-0.28],[0.35,-0.28],[0.7,-0.28],[1.05,-0.28],[1.4,-0.28],[1.75,-0.28],[2.1,-0.28],[2.45,-0.28],[2.8,-0.28],[3.15,-0.28],[3.5,-0.28],
[-2.7,-0.53],[-2.35,-0.53],[-2.0,-0.53],[-1.65,-0.53],[-1.3,-0.53],[-0.95,-0.53],[-0.6,-0.53],[-0.25,-0.53],[0.1,-0.53],[0.45,-0.53],[0.8,-0.53],[1.15,-0.53],[1.5,-0.53],[1.85,-0.53],[2.2,-0.53],[2.55,-0.53],[2.9,-0.53],[3.25,-0.53],
[-2.5,-0.78],[-2.15,-0.78],[-1.8,-0.78],[-1.45,-0.78],[-1.1,-0.78],[-0.75,-0.78],[-0.4,-0.78],[-0.05,-0.78],[0.3,-0.78],[0.65,-0.78],[1.0,-0.78],[1.35,-0.78],[1.7,-0.78],[2.05,-0.78],[2.4,-0.78],[2.75,-0.78],[3.1,-0.78],
[-1.85,-1.03],[-1.5,-1.03],[-1.15,-1.03],[-0.8,-1.03],[-0.45,-1.03],[-0.1,-1.03],[0.25,-1.03],[0.6,-1.03],[0.95,-1.03],[1.3,-1.03],[1.65,-1.03],[2.0,-1.03],[2.35,-1.03],[2.7,-1.03],
[-1.6,-1.28],[-1.25,-1.28],[-0.9,-1.28],[-0.55,-1.28],[-0.2,-1.28],[0.15,-1.28],[0.5,-1.28],[0.85,-1.28],[1.2,-1.28],[1.55,-1.28],[1.9,-1.28],[2.25,-1.28],[2.6,-1.28],
[-1.3,-1.53],[-0.95,-1.53],[-0.6,-1.53],[-0.25,-1.53],[0.1,-1.53],[0.45,-1.53],[0.8,-1.53],[1.15,-1.53],[1.5,-1.53],[1.85,-1.53],[2.2,-1.53],
[-1.1,-1.78],[-0.75,-1.78],[-0.4,-1.78],[-0.05,-1.78],[0.3,-1.78],[0.65,-1.78],[1.0,-1.78],[1.35,-1.78],[1.7,-1.78],[2.05,-1.78],
[-0.6,-2.03],[-0.25,-2.03],[0.1,-2.03],[0.45,-2.03],[0.8,-2.03],[1.15,-2.03],[1.5,-2.03]
];

const smsPoints = [
[2.55,1.98],
[-0.85,1.89],[0.5,1.82],[1.2,1.72],
[-1.0,1.58],[-0.6,1.63],[-0.2,1.57],[0.25,1.62],[0.6,1.58],[0.95,1.63],[1.3,1.57],[1.7,1.5],
[-1.3,1.33],[-0.95,1.38],[-0.65,1.32],[-0.35,1.37],[-0.05,1.33],[0.25,1.38],[0.55,1.32],[0.85,1.37],[1.15,1.33],[1.45,1.38],[1.75,1.32],[2.05,1.36],
[-2.25,1.13],[-1.6,1.08],[-1.3,1.13],[-1.0,1.07],[-0.7,1.12],[-0.4,1.08],[-0.1,1.13],[0.2,1.07],[0.5,1.12],[0.8,1.08],[1.1,1.13],[1.4,1.07],[1.7,1.12],[2.0,1.08],[2.3,1.1],[2.8,1.13],[3.1,1.13],
[-1.8,0.83],[-1.5,0.88],[-1.2,0.82],[-0.9,0.87],[-0.6,0.83],[-0.3,0.88],[0.0,0.82],[0.3,0.87],[0.6,0.83],[0.9,0.88],[1.2,0.82],[1.5,0.87],[1.8,0.83],[2.1,0.88],[2.45,0.8],
[-2.0,0.58],[-1.7,0.63],[-1.4,0.57],[-1.1,0.62],[-0.8,0.58],[-0.5,0.63],[-0.2,0.57],[0.1,0.62],[0.4,0.58],[0.7,0.63],[1.0,0.57],[1.3,0.62],[1.6,0.58],[1.9,0.63],[2.25,0.6],
[-2.1,0.33],[-1.8,0.38],[-1.5,0.32],[-1.2,0.37],[-0.9,0.33],[-0.6,0.38],[-0.3,0.32],[0.0,0.37],[0.3,0.33],[0.6,0.38],[0.9,0.32],[1.2,0.37],[1.5,0.33],[1.8,0.38],[2.1,0.3],
[-2.2,0.12],[-1.9,0.07],[-1.6,0.13],[-1.3,0.08],[-1.0,0.12],[-0.7,0.07],[-0.4,0.13],[-0.1,0.08],[0.2,0.12],[0.5,0.07],[0.8,0.13],[1.1,0.08],[1.4,0.12],[1.7,0.07],[2.0,0.1],
[-2.4,-0.1],[-2.05,-0.17],[-1.75,-0.12],[-1.45,-0.17],[-1.15,-0.13],[-0.85,-0.18],[-0.55,-0.12],[-0.25,-0.17],[0.05,-0.13],[0.35,-0.18],[0.65,-0.12],[0.95,-0.17],[1.25,-0.13],[1.55,-0.18],[1.9,-0.12],
[-2.1,-0.35],[-1.8,-0.42],[-1.5,-0.37],[-1.2,-0.43],[-0.9,-0.38],[-0.6,-0.42],[-0.3,-0.37],[0.0,-0.43],[0.3,-0.38],[0.6,-0.42],[0.9,-0.37],[1.2,-0.43],[1.5,-0.38],[1.75,-0.45],
[-1.85,-0.63],[-1.55,-0.68],[-1.25,-0.62],[-0.95,-0.67],[-0.65,-0.63],[-0.35,-0.68],[-0.05,-0.62],[0.25,-0.67],[0.55,-0.63],[0.85,-0.68],[1.15,-0.62],[1.45,-0.67],[1.7,-0.65],
[-1.75,-0.95],[-1.4,-0.88],[-1.1,-0.93],[-0.8,-0.87],[-0.5,-0.92],[-0.2,-0.88],[0.1,-0.93],[0.4,-0.87],[0.7,-0.92],[1.0,-0.88],[1.3,-0.9],
[-1.7,-1.1],[-1.3,-1.2],[-1.0,-1.13],[-0.7,-1.18],[-0.4,-1.12],[-0.1,-1.17],[0.2,-1.13],[0.5,-1.18],[1.15,-1.23],
[-1.25,-1.32],[-0.6,-1.42],[-0.3,-1.38],[0.0,-1.43],[0.55,-1.42],
[-0.5,-1.7],[-0.15,-1.65],
[0.27,-2.17],
[-0.26,-2.45]
];
const smsCore = [
[-0.8,1.47],[-0.45,1.47],[-0.1,1.47],[0.25,1.47],[0.6,1.47],[0.95,1.47],[1.3,1.47],
[-1.5,1.22],[-1.15,1.22],[-0.8,1.22],[-0.45,1.22],[-0.1,1.22],[0.25,1.22],[0.6,1.22],[0.95,1.22],[1.3,1.22],[1.65,1.22],[1.95,1.22],
[-1.65,0.97],[-1.3,0.97],[-0.95,0.97],[-0.6,0.97],[-0.25,0.97],[0.1,0.97],[0.45,0.97],[0.8,0.97],[1.15,0.97],[1.5,0.97],[1.85,0.97],[2.2,0.97],
[-1.85,0.72],[-1.5,0.72],[-1.15,0.72],[-0.8,0.72],[-0.45,0.72],[-0.1,0.72],[0.25,0.72],[0.6,0.72],[0.95,0.72],[1.3,0.72],[1.65,0.72],[2.0,0.72],
[-1.95,0.47],[-1.6,0.47],[-1.25,0.47],[-0.9,0.47],[-0.55,0.47],[-0.2,0.47],[0.15,0.47],[0.5,0.47],[0.85,0.47],[1.2,0.47],[1.55,0.47],[1.9,0.47],
[-2.05,0.22],[-1.7,0.22],[-1.35,0.22],[-1.0,0.22],[-0.65,0.22],[-0.3,0.22],[0.05,0.22],[0.4,0.22],[0.75,0.22],[1.1,0.22],[1.45,0.22],[1.8,0.22],[2.1,0.22],
[-2.1,-0.03],[-1.75,-0.03],[-1.4,-0.03],[-1.05,-0.03],[-0.7,-0.03],[-0.35,-0.03],[0.0,-0.03],[0.35,-0.03],[0.7,-0.03],[1.05,-0.03],[1.4,-0.03],[1.75,-0.03],
[-1.95,-0.28],[-1.6,-0.28],[-1.25,-0.28],[-0.9,-0.28],[-0.55,-0.28],[-0.2,-0.28],[0.15,-0.28],[0.5,-0.28],[0.85,-0.28],[1.2,-0.28],[1.55,-0.28],
[-1.75,-0.53],[-1.4,-0.53],[-1.05,-0.53],[-0.7,-0.53],[-0.35,-0.53],[0.0,-0.53],[0.35,-0.53],[0.7,-0.53],[1.05,-0.53],[1.4,-0.53],
[-1.55,-0.78],[-1.2,-0.78],[-0.85,-0.78],[-0.5,-0.78],[-0.15,-0.78],[0.2,-0.78],[0.55,-0.78],[0.9,-0.78],[1.2,-0.78],
[-1.2,-1.03],[-0.85,-1.03],[-0.5,-1.03],[-0.15,-1.03],[0.2,-1.03],[0.55,-1.03]
];

const pointSets = [kwtPoints.concat(kwtCore), ngyPoints.concat(ngyCore), hbtPoints.concat(hbtCore), smsPoints.concat(smsCore)];

// ---------------- LAYOUT ----------------
const grids = [
  {left: 99, top: 70, width: 457, height: 243},
  {left: 556, top: 70, width: 457, height: 243},
  {left: 99, top: 313, width: 457, height: 243},
  {left: 556, top: 313, width: 457, height: 243}
];
const FONT = 'DejaVu Sans';
const TXT = '#1a1a1a';
const PLUS = 'path://M3.65,0H6.35V3.65H10V6.35H6.35V10H3.65V6.35H0V3.65H3.65Z';

function isIn(arr, v) { const r = Math.round(v); return Math.abs(v - r) < 1e-6 && arr.indexOf(r) >= 0; }
function fmtNum(v) { return v < 0 ? '\u2212' + Math.abs(v) : String(v); }

const xAxes = [], yAxes = [];
panelNames.forEach((nm, i) => {
  const top = i < 2, left = i % 2 === 0;
  const xPos = top ? 'top' : 'bottom', xOpp = top ? 'bottom' : 'top';
  const yPos = left ? 'left' : 'right', yOpp = left ? 'right' : 'left';
  const line = {show: true, onZero: false, lineStyle: {color: '#000', width: 1.3}};
  const bx = {type: 'value', gridIndex: i, min: xRange[0], max: xRange[1], interval: 1};
  const by = {type: 'value', gridIndex: i, min: yRange[0], max: yRange[1], interval: 1};
  xAxes.push(Object.assign({}, bx, {
    position: xPos, axisLine: line,
    axisTick: {show: true, inside: true, length: 5, lineStyle: {color: '#000', width: 1}},
    axisLabel: {show: true, margin: top ? 4 : 10, fontSize: 17, fontFamily: FONT, color: TXT,
      formatter: v => isIn(xTickLabels, v) ? fmtNum(Math.round(v)) : ''},
    splitLine: {show: true, lineStyle: {color: '#cdcdcd', type: 'dotted', width: 1}},
    name: '{a|' + nm + ' \u0394T}{s|EFF}{a| (K)}', nameLocation: 'middle', nameGap: top ? 32 : 29,
    nameTextStyle: {rich: {
      a: {fontSize: 18, fontFamily: FONT, color: TXT, lineHeight: 22},
      s: {fontSize: 10.5, fontFamily: FONT, color: TXT, lineHeight: 13, verticalAlign: 'bottom'}
    }}
  }));
  xAxes.push(Object.assign({}, bx, {position: xOpp, axisLine: line,
    axisTick: {show: true, inside: true, length: 5, lineStyle: {color: '#000', width: 1}},
    axisLabel: {show: false}, splitLine: {show: false}}));
  [xPos, xOpp].forEach(p => xAxes.push(Object.assign({}, bx, {position: p,
    axisLine: {show: false, onZero: false},
    axisTick: {show: true, inside: true, length: 10, customValues: xTickLabels, lineStyle: {color: '#000', width: 1}},
    axisLabel: {show: false}, splitLine: {show: false}})));

  yAxes.push(Object.assign({}, by, {
    position: yPos, axisLine: line,
    axisTick: {show: true, inside: true, length: 5, lineStyle: {color: '#000', width: 1}},
    axisLabel: {show: true, margin: left ? 4 : 6, fontSize: 17, fontFamily: FONT, color: TXT,
      formatter: v => isIn(yTickLabels, v) ? fmtNum(Math.round(v)) : ''},
    splitLine: {show: true, lineStyle: {color: '#cdcdcd', type: 'dotted', width: 1}}
  }));
  yAxes.push(Object.assign({}, by, {position: yOpp, axisLine: line,
    axisTick: {show: true, inside: true, length: 5, lineStyle: {color: '#000', width: 1}},
    axisLabel: {show: false}, splitLine: {show: false}}));
  [yPos, yOpp].forEach(p => yAxes.push(Object.assign({}, by, {position: p,
    axisLine: {show: false, onZero: false},
    axisTick: {show: true, inside: true, length: 9, customValues: yTickLabels, lineStyle: {color: '#000', width: 1}},
    axisLabel: {show: false}, splitLine: {show: false}})));
});

const series = [];
panelNames.forEach((nm, i) => {
  series.push({type: 'line', xAxisIndex: 4 * i, yAxisIndex: 4 * i, data: [], silent: true, z: 1,
    markLine: {silent: true, symbol: 'none', z: 1, animation: false, label: {show: false},
      lineStyle: {color: '#8a8a8a', type: 'dotted', width: 1}, emphasis: {disabled: true},
      data: [{xAxis: 0}, {yAxis: 0}]}});
  series.push({type: 'scatter', name: nm, xAxisIndex: 4 * i, yAxisIndex: 4 * i, data: pointSets[i],
    symbol: PLUS, symbolSize: 11, itemStyle: {color: panelColors[i], opacity: 1}, silent: true, z: 2, large: false});
  const reg = xRange.map(x => [x, slopes[i] * x]);
  series.push({type: 'line', xAxisIndex: 4 * i, yAxisIndex: 4 * i, data: reg, symbol: 'none', silent: true, z: 3,
    lineStyle: {color: '#ffffff', width: 5}});
  series.push({type: 'line', xAxisIndex: 4 * i, yAxisIndex: 4 * i, data: reg, symbol: 'none', silent: true, z: 4,
    lineStyle: {color: '#000000', width: 2.5, type: [6, 4]}});
});

// ---------------- GRAPHIC (titles, legend boxes, stats) ----------------
const graphics = [];
graphics.push({type: 'rect', shape: {x: 7, y: 4.5, width: 1118, height: 688}, style: {fill: 'none', stroke: '#000', lineWidth: 3}, z: 100});

function yTitle(cx, cy, code) {
  return {type: 'group', x: cx, y: cy, rotation: Math.PI / 2, z: 50, children: [
    {type: 'text', x: -46, y: -1, style: {text: 'I', fontSize: 17, fontFamily: 'Liberation Serif', fill: TXT, align: 'left', verticalAlign: 'middle', textAlign: 'left', textVerticalAlign: 'middle'}},
    {type: 'text', x: -37, y: -5, style: {text: 'CP\u2212SRT', fontSize: 9, fontFamily: 'Liberation Sans', fill: TXT, align: 'left', verticalAlign: 'middle', textAlign: 'left', textVerticalAlign: 'middle'}},
    {type: 'text', x: -37, y: 3, style: {text: '0,' + code, fontSize: 9, fontFamily: 'Liberation Sans', fill: TXT, align: 'left', verticalAlign: 'middle', textAlign: 'left', textVerticalAlign: 'middle'}},
    {type: 'text', x: 17, y: 3, style: {text: '(%)', fontSize: 15, fontFamily: FONT, fill: TXT, align: 'left', verticalAlign: 'middle', textAlign: 'left', textVerticalAlign: 'middle'}}
  ]};
}
panelNames.forEach((nm, i) => {
  const g = grids[i];
  const cx = (i % 2 === 0) ? 36 : 1052;
  graphics.push(yTitle(cx, g.top + g.height / 2, nm));
});

// hemisphere boxes
const hemBoxes = [{x: 1081, y: 118, w: 32, h: 160}, {x: 1081, y: 367, w: 33, h: 140}];
hemispheres.forEach((h, k) => {
  const b = hemBoxes[k];
  graphics.push({type: 'rect', shape: {x: b.x, y: b.y, width: b.w, height: b.h}, style: {fill: '#fff', stroke: '#000', lineWidth: 2}, z: 50});
  graphics.push({type: 'text', x: b.x + b.w / 2, y: b.y + b.h / 2, rotation: Math.PI / 2, z: 51,
    style: {text: h, fontSize: 15, fontWeight: 'bold', fontFamily: 'Open Sans', fill: '#000', align: 'center', verticalAlign: 'middle', textAlign: 'center', textVerticalAlign: 'middle'}});
});

// centre legend boxes
const legCells = [{x: 487, y: 282, w: 69, h: 31}, {x: 556, y: 282, w: 68, h: 31}, {x: 487, y: 313, w: 69, h: 32}, {x: 556, y: 313, w: 68, h: 32}];
const legColors = ['#A65B35', '#FF0000', '#0000FF', '#006400'];
graphics.push({type: 'rect', shape: {x: 487, y: 282, width: 137, height: 63}, style: {fill: '#000', shadowBlur: 5, shadowOffsetX: 2, shadowOffsetY: 3, shadowColor: 'rgba(0,0,0,0.55)'}, z: 60});
panelNames.forEach((nm, i) => {
  const c = legCells[i];
  graphics.push({type: 'rect', shape: {x: c.x, y: c.y, width: c.w, height: c.h}, style: {fill: legColors[i], stroke: '#111', lineWidth: 2}, z: 61});
  graphics.push({type: 'text', x: c.x + c.w / 2, y: c.y + c.h / 2 + 1, z: 62,
    style: {text: nm, fontSize: 20, fontWeight: 'bold', fontFamily: 'Open Sans', fill: '#fff', align: 'center', verticalAlign: 'middle', textAlign: 'center', textVerticalAlign: 'middle'}});
});

// bottom statistic boxes
const statX = [16, 294, 571, 847, 1124];
boxStations.forEach((s, k) => {
  const x0 = statX[k], x1 = statX[k + 1];
  graphics.push({type: 'rect', shape: {x: x0, y: 615, width: x1 - x0, height: 65}, style: {fill: boxColors[k]}, z: 40});
  graphics.push({type: 'text', x: (x0 + x1) / 2, y: 636, z: 41,
    style: {text: '{a|\u03b1}{s|EFF}{a| = ' + alphaText[k] + ' %/K}', fill: '#fff', align: 'center', verticalAlign: 'middle', textAlign: 'center', textVerticalAlign: 'middle',
      rich: {a: {fontSize: 20, fontWeight: 'bold', fontFamily: 'Open Sans', fill: '#fff', color: '#fff', lineHeight: 24},
             s: {fontSize: 11, fontWeight: 'bold', fontFamily: 'Open Sans', fill: '#fff', color: '#fff', lineHeight: 14, verticalAlign: 'bottom'}}}});
  graphics.push({type: 'text', x: (x0 + x1) / 2, y: 668, z: 41,
    style: {text: 'R = ' + rText[k], fontSize: 20, fontWeight: 'bold', fontFamily: 'Open Sans', fill: '#fff', align: 'center', verticalAlign: 'middle', textAlign: 'center', textVerticalAlign: 'middle'}});
});

const chart = echarts.init(document.getElementById('c'), null, {renderer: 'canvas'});
chart.setOption({
  animation: false,
  backgroundColor: '#ffffff',
  grid: grids,
  xAxis: xAxes,
  yAxis: yAxes,
  series: series,
  graphic: {elements: graphics}
});
</script>
</body></html>
